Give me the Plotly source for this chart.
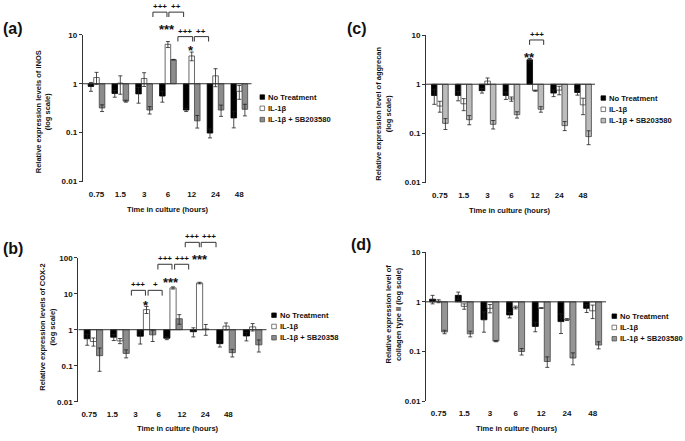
import plotly.graph_objects as go

W, H = 685, 441
FONT = "Liberation Sans, Arial, sans-serif"

times = ["0.75", "1.5", "3", "6", "12", "24", "48"]
series_names = ["No Treatment", "IL-1β", "IL-1β + SB203580"]

# (a) iNOS
no_trt_a = [0.88, 0.63, 0.62, 0.56, 0.29, 0.098, 0.20]
no_trt_a_err = [0.18, 0.10, 0.22, 0.14, 0.02, 0.02, 0.075]
il1b_a = [1.34, 1.03, 1.28, 6.4, 3.7, 1.45, 0.70]
il1b_a_err = [0.37, 0.42, 0.40, 0.9, 0.75, 0.58, 0.22]
sb_a = [0.32, 0.44, 0.29, 3.1, 0.174, 0.29, 0.30]
sb_a_err = [0.05, 0.02, 0.05, 0.05, 0.05, 0.075, 0.08]

# (b) COX-2
no_trt_b = [0.56, 0.62, 0.66, 0.58, 0.88, 0.41, 0.67]
no_trt_b_err = [0.19, 0.12, 0.26, 0.05, 0.25, 0.08, 0.18]
il1b_b = [0.47, 0.49, 3.62, 14.5, 19.8, 1.26, 1.2]
il1b_b_err = [0.12, 0.08, 0.8, 1.0, 1.0, 0.28, 0.28]
sb_b = [0.19, 0.22, 0.72, 2.02, 1.05, 0.23, 0.38]
sb_b_err = [0.12, 0.055, 0.25, 0.6, 0.35, 0.055, 0.14]

# (c) aggrecan
no_trt_c = [0.59, 0.59, 0.74, 0.59, 3.14, 0.66, 0.68]
no_trt_c_err = [0.2, 0.13, 0.08, 0.1, 0.2, 0.1, 0.08]
il1b_c = [0.36, 0.40, 1.16, 0.50, 0.74, 0.76, 0.38]
il1b_c_err = [0.09, 0.11, 0.18, 0.05, 0.02, 0.15, 0.14]
sb_c = [0.16, 0.19, 0.153, 0.24, 0.31, 0.144, 0.086]
sb_c_err = [0.04, 0.04, 0.03, 0.035, 0.04, 0.03, 0.027]

# (d) collagen type II
no_trt_d = [1.13, 1.35, 0.435, 0.545, 0.32, 0.40, 0.74]
no_trt_d_err = [0.22, 0.22, 0.19, 0.07, 0.07, 0.17, 0.13]
il1b_d = [1.03, 0.81, 0.74, 0.77, 0.75, 0.44, 0.66]
il1b_d_err = [0.07, 0.10, 0.14, 0.05, 0.01, 0.02, 0.2]
sb_d = [0.248, 0.227, 0.162, 0.10, 0.063, 0.074, 0.135]
sb_d_err = [0.02, 0.03, 0.005, 0.015, 0.015, 0.02, 0.022]


def px(x):
    return x / W


def py(y):
    return 1 - y / H


panels = [
    dict(tag="(a)", tag_xy=(13, 25), data=[(no_trt_a, no_trt_a_err), (il1b_a, il1b_a_err), (sb_a, sb_a_err)],
         grey="#8c8c8c", xpx=(82.7, 251.7), ypx=(181.2, 31.5), yr=(-2, 1), xr=(-0.58, 6.52), lab=(1.0, 0.0),
         ytitle="Relative expression levels of iNOS<br>(log scale)", ytitle_xy=(43.5, 110),
         xtitle_xy=(168, 209.3), leg_xy=(260, 95), leg_names=series_names,
         brackets=[(3, -0.63, -0.04, 1.465, 1.365, "+++"), (3, 0.04, 0.66, 1.465, 1.365, "++"),
                   (4, -0.58, 0.04, 0.964, 0.864, "+++"), (4, 0.11, 0.71, 0.964, 0.864, "++")],
         stars=[(3, -0.04, 1.176, "***"), (4, -0.03, 0.75, "*")]),
    dict(tag="(b)", tag_xy=(13, 250), data=[(no_trt_b, no_trt_b_err), (il1b_b, il1b_b_err), (sb_b, sb_b_err)],
         grey="#8c8c8c", xpx=(78.3, 266.7), ypx=(406, 259), yr=(-2, 2), xr=(-0.57, 6.53), lab=(0.874, -0.16),
         ytitle="Relative expression levels of COX-2<br>(log scale)", ytitle_xy=(47.5, 330),
         xtitle_xy=(178, 433.3), leg_xy=(271.7, 317.7),
         leg_names=["No Treatment", "IL-1β", "IL-1β + SB20358"],
         brackets=[(2, -0.57, -0.04, 1.094, 0.947, "+++"), (2, 0.06, 0.59, 1.094, 0.947, "+"),
                   (3, -0.57, -0.04, 1.818, 1.673, "+++"), (3, 0.06, 0.59, 1.818, 1.673, "+++"),
                   (4, -0.54, -0.01, 2.427, 2.291, "+++"), (4, 0.06, 0.62, 2.427, 2.291, "+++")],
         stars=[(2, -0.03, 0.748, "*"), (3, -0.06, 1.382, "***"), (4, 0.0, 2.035, "***")]),
    dict(tag="(c)", tag_xy=(357, 25), data=[(no_trt_c, no_trt_c_err), (il1b_c, il1b_c_err), (sb_c, sb_c_err)],
         grey="#bcbcbc", xpx=(426, 595), ypx=(182.3, 31.7), yr=(-2, 1), xr=(-0.58, 6.5), lab=(1.0, 0.0),
         ytitle="Relative expression level of aggrecan<br>(log scale)", ytitle_xy=(384, 112),
         xtitle_xy=(510, 210.7), leg_xy=(601, 96), leg_names=series_names,
         brackets=[(4, -0.24, 0.35, 0.9, 0.8, "+++")],
         stars=[(4, -0.23, 0.6, "**")]),
    dict(tag="(d)", tag_xy=(361, 245), data=[(no_trt_d, no_trt_d_err), (il1b_d, il1b_d_err), (sb_d, sb_d_err)],
         grey="#959595", xpx=(426, 606), ypx=(405.5, 253.3), yr=(-2, 1), xr=(-0.49, 6.52), lab=(1.0, 0.0),
         ytitle="Relative expression level of<br>collagen type II (log scale)", ytitle_xy=(394, 317),
         xtitle_xy=(516.5, 433.3), leg_xy=(612, 318.7), leg_names=series_names,
         brackets=[], stars=[]),
]

fig = go.Figure()
shapes, annotations = [], []
bold = dict(family=FONT, color="#111", weight="bold")


def note(x, y, text, size, **kw):
    d = dict(x=x, y=y, xref="paper", yref="paper", text=text, showarrow=False,
             xanchor="center", yanchor="middle", font=dict(size=size, **bold))
    d.update(kw)
    annotations.append(d)


for i, p in enumerate(panels, start=1):
    xd = [px(p["xpx"][0]), px(p["xpx"][1])]
    yd = [py(p["ypx"][0]), py(p["ypx"][1])]
    y0, y1 = p["yr"]
    fills = ["#000000", "#ffffff", p["grey"]]
    lines = ["#000000", "#444444", "#444444"]
    for (vals, errs), name, fc, lc in zip(p["data"], series_names, fills, lines):
        fig.add_trace(go.Bar(
            x=list(range(len(times))), y=[v - 1 for v in vals], base=1, name=name,
            marker=dict(color=fc, line=dict(color=lc, width=0.8)),
            error_y=dict(type="data", array=errs, color="#222", thickness=0.8, width=2),
            xaxis=f"x{i}", yaxis=f"y{i}", showlegend=False, hoverinfo="skip"))

    scale, shift = p["lab"]
    fig.layout[f"xaxis{i}"] = dict(
        domain=xd, range=list(p["xr"]), anchor=f"y{i}",
        showline=False, ticks="", tickvals=[k * scale + shift for k in range(len(times))],
        ticktext=times, tickfont=dict(size=8, **bold), ticklabelstandoff=6,
        showgrid=False, zeroline=False, fixedrange=True)
    fig.layout[f"yaxis{i}"] = dict(
        domain=yd, type="log", range=[y0, y1], anchor=f"x{i}",
        showline=True, linecolor="#333", linewidth=1, ticks="outside", ticklen=3, tickcolor="#333",
        tickvals=[10 ** k for k in range(y0, y1 + 1)],
        ticktext=[f"{10 ** k:g}" for k in range(y0, y1 + 1)],
        tickfont=dict(size=8, **bold), showgrid=False, zeroline=False, fixedrange=True)

    # baseline at 1 with small ticks between time points
    shapes.append(dict(type="line", xref=f"x{i}", yref=f"y{i}", x0=p["xr"][0], x1=p["xr"][1],
                       y0=1, y1=1, line=dict(color="#333", width=1)))
    for k in range(len(times)):
        shapes.append(dict(type="line", xref=f"x{i}", yref=f"y{i}", ysizemode="pixel", yanchor=1,
                           x0=k + 0.5, x1=k + 0.5, y0=0, y1=-3, line=dict(color="#333", width=1)))

    def gx(g, off, p=p, xd=xd):
        r0, r1 = p["xr"]
        return xd[0] + (g + off - r0) / (r1 - r0) * (xd[1] - xd[0])

    def gy(lv, yd=yd, y0=y0, y1=y1):
        return yd[0] + (lv - y0) / (y1 - y0) * (yd[1] - yd[0])

    for g, a, b, top, low, txt in p["brackets"]:
        xa, xb, yt, yl = gx(g, a), gx(g, b), gy(top), gy(low)
        shapes.append(dict(type="path", xref="paper", yref="paper",
                           path=f"M{xa},{yl} L{xa},{yt} L{xb},{yt} L{xb},{yl}",
                           line=dict(color="#333", width=1)))
        note((xa + xb) / 2, yt, txt, 8, yanchor="bottom", yshift=-1)
    for g, off, lv, txt in p["stars"]:
        note(gx(g, off), gy(lv), txt, 13, yshift=-3)

    note(px(p["tag_xy"][0]), py(p["tag_xy"][1]), p["tag"], 16)
    note(px(p["ytitle_xy"][0]), py(p["ytitle_xy"][1]), p["ytitle"], 7.5, textangle=-90)
    note(px(p["xtitle_xy"][0]), py(p["xtitle_xy"][1]), "Time in culture (hours)", 7.5)

    # legend
    lx, ly = p["leg_xy"]
    for k, (name, fc, lc) in enumerate(zip(p["leg_names"], fills, lines)):
        yy = ly + k * 11.5
        shapes.append(dict(type="rect", xref="paper", yref="paper",
                           x0=px(lx), x1=px(lx + 4.6), y0=py(yy + 2.3), y1=py(yy - 2.3),
                           fillcolor=fc, line=dict(color=lc, width=0.7)))
        note(px(lx + 6.2), py(yy), name, 7.6, xanchor="left")

fig.update_layout(
    width=W, height=H, margin=dict(l=0, r=0, t=0, b=0),
    paper_bgcolor="white", plot_bgcolor="white",
    barmode="group", bargap=0.3, bargroupgap=0,
    shapes=shapes, annotations=annotations, showlegend=False,
    font=dict(family=FONT, size=8, color="#111"),
)

fig.write_html("out.html", config={"displayModeBar": False},
               post_script="document.body.style.margin='0px';")
